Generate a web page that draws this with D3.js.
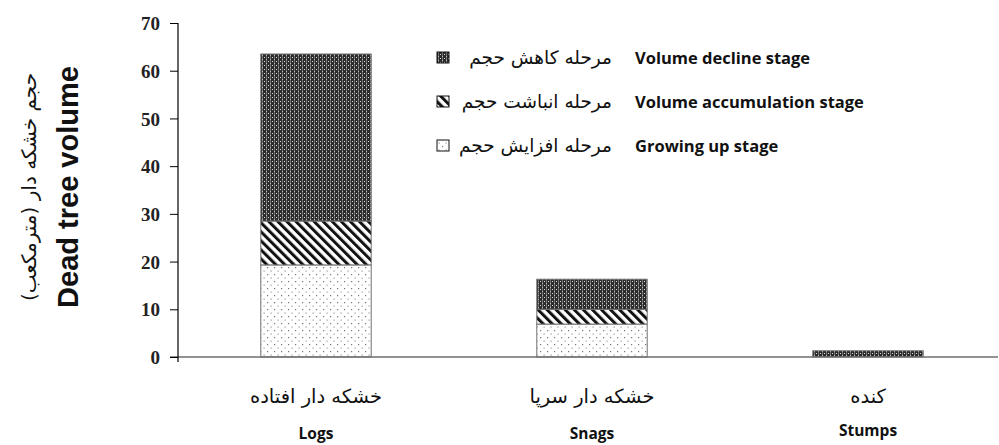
<!DOCTYPE html>
<html>
<head>
<meta charset="utf-8">
<style>
  body { margin: 0; background: #fff; }
  svg { display: block; }
  .ytick text { font-family: "Liberation Serif", serif; font-weight: bold; font-size: 19px; fill: #222; }
  .en { font-family: "Open Sans", sans-serif; font-weight: bold; fill: #111; }
  .fa { font-family: "DejaVu Sans", sans-serif; fill: #111; }
</style>
</head>
<body>
<div class="chart"></div>
<script src="https://cdnjs.cloudflare.com/ajax/libs/d3/7.8.5/d3.min.js"></script>
<script>
// data
var categories = ["Logs", "Snags", "Stumps"];
var categoriesFa = ["خشکه دار افتاده", "خشکه دار سرپا", "کنده"];
var growing = [19.3, 6.9, 0];
var accumulation = [9.2, 3.1, 0];
var decline = [35.0, 6.3, 1.3];
var stageKeys = ["growing", "accumulation", "decline"];
var stageEn = ["Growing up stage", "Volume accumulation stage", "Volume decline stage"];
var stageFa = ["مرحله افزایش حجم", "مرحله انباشت حجم", "مرحله کاهش حجم"];
var yTicks = [0, 10, 20, 30, 40, 50, 60, 70];

var width = 999, height = 445;

var svg = d3.select(".chart").append("svg")
  .attr("width", width)
  .attr("height", height);

// fill patterns
var defs = svg.append("defs");

var pDecline = defs.append("pattern")
  .attr("id", "p-decline")
  .attr("patternUnits", "userSpaceOnUse")
  .attr("width", 4).attr("height", 4);
pDecline.append("rect").attr("width", 4).attr("height", 4).attr("fill", "#2b2b2b");
pDecline.append("rect").attr("x", 2).attr("width", 1).attr("height", 4).attr("fill", "#707070");
pDecline.append("rect").attr("x", 0).attr("y", 1).attr("width", 1).attr("height", 1).attr("fill", "#e0e0e0");
pDecline.append("rect").attr("x", 2).attr("y", 3).attr("width", 1).attr("height", 1).attr("fill", "#bbbbbb");

var pAcc = defs.append("pattern")
  .attr("id", "p-acc")
  .attr("patternUnits", "userSpaceOnUse")
  .attr("width", 6.4).attr("height", 6.4)
  .attr("patternTransform", "rotate(-45)");
pAcc.append("rect").attr("width", 6.4).attr("height", 6.4).attr("fill", "#fff");
pAcc.append("rect").attr("width", 3).attr("height", 6.4).attr("fill", "#111");

var pGrow = defs.append("pattern")
  .attr("id", "p-grow")
  .attr("patternUnits", "userSpaceOnUse")
  .attr("width", 7).attr("height", 7);
pGrow.append("rect").attr("width", 7).attr("height", 7).attr("fill", "#fff");
pGrow.append("rect").attr("x", 1).attr("y", 1).attr("width", 1.2).attr("height", 1.2).attr("fill", "#777");
pGrow.append("rect").attr("x", 4.5).attr("y", 4.5).attr("width", 1.2).attr("height", 1.2).attr("fill", "#999");

var fills = { growing: "url(#p-grow)", accumulation: "url(#p-acc)", decline: "url(#p-decline)" };

// scales
var x = d3.scaleBand()
  .domain(categories)
  .range([178, 1006])
  .paddingInner(0.6)
  .paddingOuter(0.3);

var y = d3.scaleLinear()
  .domain([0, 70])
  .range([357, 23]);

// table for the stack
var table = categories.map(function(c, i) {
  return { cat: c, growing: growing[i], accumulation: accumulation[i], decline: decline[i] };
});
var series = d3.stack().keys(stageKeys)(table);

// bars
svg.append("g").selectAll("g")
  .data(series)
  .enter().append("g")
  .attr("fill", function(d) { return fills[d.key]; })
  .selectAll("rect")
  .data(function(d) { return d.filter(function(s) { return s[1] - s[0] > 0; }); })
  .enter().append("rect")
  .attr("x", function(d) { return x(d.data.cat); })
  .attr("width", x.bandwidth())
  .attr("y", function(d) { return y(d[1]); })
  .attr("height", function(d) { return y(d[0]) - y(d[1]); })
  .attr("stroke", "#6f6f6f")
  .attr("stroke-width", 1);

// x axis (line only)
var gX = svg.append("g")
  .attr("transform", "translate(0," + y(0) + ")")
  .call(d3.axisBottom(x).tickSize(0).tickFormat(""));
gX.select(".domain").attr("stroke", "#6f6f6f").attr("stroke-width", 1.5)
  .attr("d", "M" + 170 + ",0H" + 998);

// y axis
var gY = svg.append("g")
  .attr("class", "ytick")
  .attr("transform", "translate(178,0)")
  .call(d3.axisLeft(y).tickValues(yTicks).tickSize(8).tickSizeOuter(0).tickPadding(10));
gY.select(".domain").attr("stroke", "#000").attr("stroke-width", 1.2)
  .attr("d", "M0," + y(70) + "V" + (y(0) + 5));
gY.selectAll(".tick line").attr("stroke", "#000").attr("stroke-width", 1);
gY.selectAll(".tick text").attr("dy", "0.35em");

// category labels
svg.append("g").selectAll("text")
  .data(categoriesFa)
  .enter().append("text")
  .attr("class", "fa")
  .attr("x", function(d, i) { return x(categories[i]) + x.bandwidth() / 2; })
  .attr("y", 403)
  .attr("text-anchor", "middle")
  .style("font-size", "19.5px")
  .text(function(d) { return d; });

svg.append("g").selectAll("text")
  .data(categories)
  .enter().append("text")
  .attr("class", "en")
  .attr("x", function(d) { return x(d) + x.bandwidth() / 2; })
  .attr("y", function(d) { return d === "Stumps" ? 436 : 439; })
  .attr("text-anchor", "middle")
  .style("font-size", "15.5px")
  .text(function(d) { return d; });

// y titles
svg.append("text")
  .attr("transform", "translate(78,187) rotate(-90)")
  .attr("text-anchor", "middle")
  .style("font-family", "'Liberation Sans', Arial, sans-serif")
  .style("font-weight", "bold")
  .style("font-size", "29px")
  .attr("fill", "#111")
  .text("Dead tree volume");

svg.append("text")
  .attr("class", "fa")
  .attr("transform", "translate(36,187) rotate(-90)")
  .attr("text-anchor", "middle")
  .style("direction", "rtl")
  .style("font-size", "20px")
  .text("حجم خشکه دار (مترمکعب)");

// legend, top row is decline
var legendRows = [2, 1, 0];
var legendY = [57, 101, 145];
var legend = svg.append("g").selectAll("g")
  .data(legendRows)
  .enter().append("g")
  .attr("transform", function(d, i) { return "translate(0," + legendY[i] + ")"; });

legend.append("rect")
  .attr("x", 437).attr("y", -5)
  .attr("width", 12).attr("height", 11)
  .attr("fill", function(d) { return fills[stageKeys[d]]; })
  .attr("stroke", "#111").attr("stroke-width", 1);

legend.append("text")
  .attr("class", "fa")
  .attr("x", 612).attr("y", 7)
  .attr("text-anchor", "end")
  .style("font-size", "18.5px")
  .text(function(d) { return stageFa[d]; });

legend.append("text")
  .attr("class", "en")
  .attr("x", 635).attr("y", 7)
  .style("font-size", "16.5px")
  .text(function(d) { return stageEn[d]; });
</script>
</body>
</html>
